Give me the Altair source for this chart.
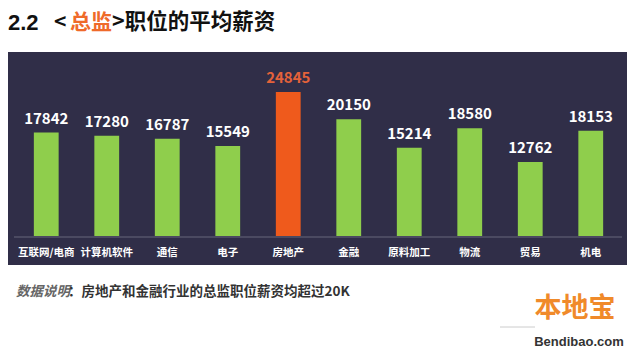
import altair as alt
import pandas as pd

categories = ["互联网/电商", "计算机软件", "通信", "电子", "房地产", "金融", "原料加工", "物流", "贸易", "机电"]
salaries = [17842, 17280, 16787, 15549, 24845, 20150, 15214, 18580, 12762, 18153]
highlight = ["no", "no", "no", "no", "yes", "no", "no", "no", "no", "no"]

df = pd.DataFrame({"cat": categories, "val": salaries, "hl": highlight})

FONT = "Noto Sans CJK SC"
one = alt.Data(values=[{"k": 1}])
OX = 16  # left padding of the view

xs = alt.Scale(domain=categories, paddingInner=0.59, paddingOuter=0.295)
ys = alt.Scale(domain=[0, 24845], range=[236, 92], nice=False, zero=True)

is_hl = alt.datum.hl == "yes"

panel = alt.Chart(one).mark_rect(color="#302e48").encode(
    x=alt.value(8 - OX), x2=alt.value(627 - OX), y=alt.value(52), y2=alt.value(265))

baseline = alt.Chart(one).mark_rule(color="#55546a", strokeWidth=1.5).encode(
    x=alt.value(14 - OX), x2=alt.value(622 - OX), y=alt.value(237))

bars = alt.Chart(df).mark_bar().encode(
    x=alt.X("cat:N", scale=xs, axis=None, sort=categories),
    y=alt.Y("val:Q", scale=ys, axis=None),
    color=alt.condition(is_hl, alt.value("#ef5a1c"), alt.value("#8fce4c")),
)

vals = alt.Chart(df).mark_text(baseline="bottom", dy=-6, font=FONT, fontSize=15, fontWeight="bold").encode(
    x=alt.X("cat:N", scale=xs, axis=None, sort=categories),
    y=alt.Y("val:Q", scale=ys, axis=None),
    text=alt.Text("val:Q", format="d"),
    color=alt.condition(is_hl, alt.value("#e4623a"), alt.value("#ffffff")),
)

catlabels = alt.Chart(df).mark_text(baseline="middle", font=FONT, fontSize=10.5, fontWeight="bold", color="#ffffff").encode(
    x=alt.X("cat:N", scale=xs, axis=None, sort=categories),
    y=alt.value(253),
    text="cat:N",
)

def txt(s, x, y, size, color, weight="bold", align="left", style="normal", font=FONT):
    return alt.Chart(one).mark_text(text=s, align=align, baseline="middle", fontSize=size,
                                    fontWeight=weight, color=color, font=font, fontStyle=style).encode(
        x=alt.value(x - OX), y=alt.value(y))

TY = 23
t1 = txt("2.2", 8, TY, 22, "#111111", font="Liberation Sans")
t2 = txt("<", 54, TY, 21, "#111111")
t3 = txt("总监", 70, TY, 21, "#ef6a2a")
t4 = txt(">职位的平均薪资", 112, TY, 21.5, "#111111")

f1 = txt("数据说明", 16, 292, 13.5, "#666666", style="italic")
f2 = txt("：房地产和金融行业的总监职位薪资均超过20K", 68, 292, 13.5, "#333333")

w1 = txt("本地宝", 575, 309, 27, "#f08a2a", align="center")
w2 = txt("Bendibao.com", 579, 342, 13, "#333333", align="center", font="Liberation Sans")
wline = alt.Chart(one).mark_rule(color="#cccccc", strokeWidth=1).encode(
    x=alt.value(500 - OX), x2=alt.value(535 - OX), y=alt.value(327))

chart = alt.layer(panel, baseline, bars, vals, catlabels, t1, t2, t3, t4, f1, f2, wline, w1, w2).properties(
    width=605, height=353, autosize=alt.AutoSizeParams(type="none"),
    padding={"left": OX, "top": 0, "right": 640 - 605 - OX, "bottom": 0}, background="#ffffff"
).configure_view(stroke=None)

chart.save("out.html", embed_options={"renderer": "svg", "actions": False})
